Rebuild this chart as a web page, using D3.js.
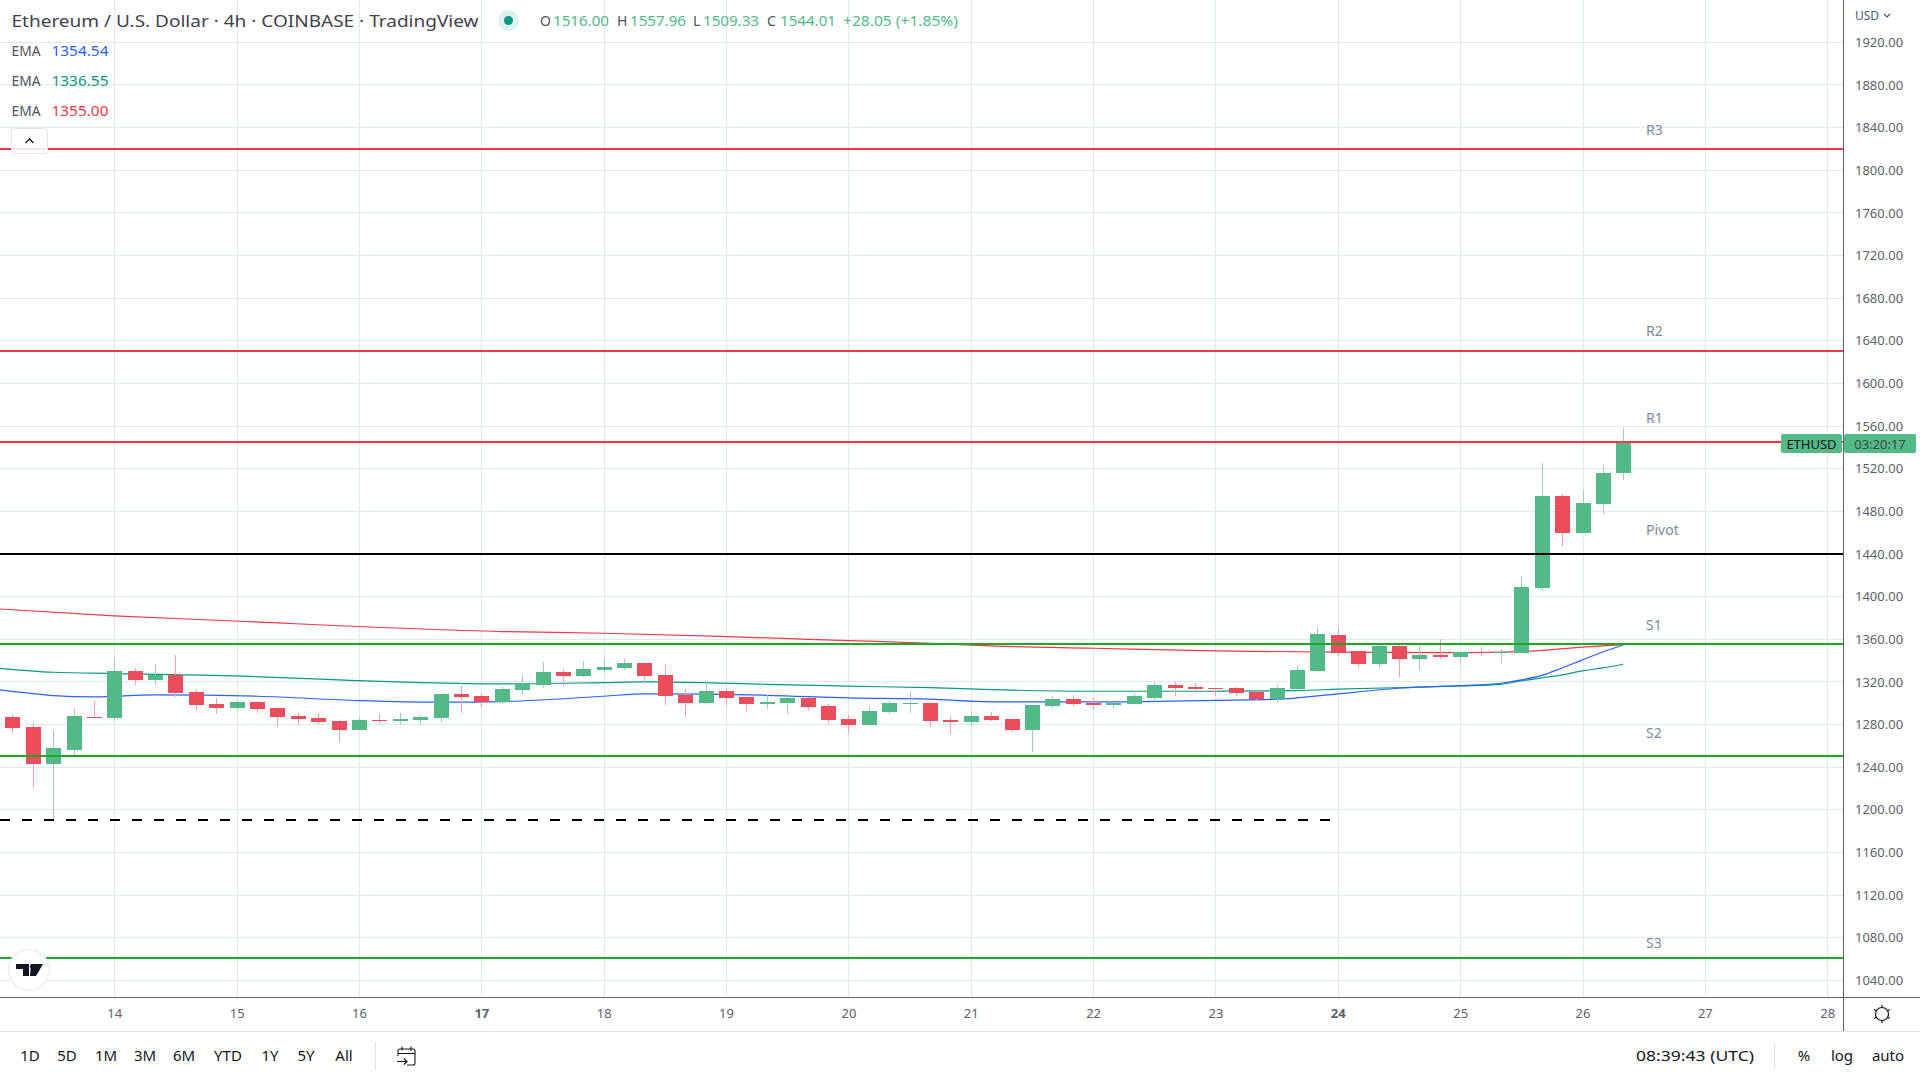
<!DOCTYPE html>
<html><head><meta charset="utf-8">
<script src="https://cdn.jsdelivr.net/npm/d3@7"></script>
<style>
html,body{margin:0;padding:0;background:#fff;overflow:hidden}
svg{display:block}
text{font-family:"Noto Sans",sans-serif}
</style></head><body>
<svg id="chart" width="1920" height="1080"></svg>
<script>
const firstBar = Date.UTC(2022, 9, 13, 4);
const barHours = 4;
const opens = [1287.1,1277.7,1243,1256.1,1287.1,1286.2,1330.3,1321.8,1326.5,1310.6,1299.3,1295.5,1301.2,1295.5,1288,1286.2,1283.4,1274.9,1284.3,1283.4,1284.3,1286.2,1308.7,1306.8,1301.2,1312.4,1317.1,1329.3,1325.6,1331.2,1333.1,1337.8,1326.5,1307.7,1300.2,1311.5,1305.9,1299.3,1300.2,1304.9,1297.4,1285.2,1279.6,1291.8,1299.3,1300.2,1284.3,1282.4,1288,1285.2,1274.9,1297.4,1304,1300.2,1298.4,1299.3,1304.9,1317.1,1315.2,1314.3,1314.3,1310.6,1304,1313.4,1330.3,1364,1349,1336.8,1353.7,1341.5,1345.3,1343.4,1347.8,1347,1347.5,1408.1,1494.4,1459.7,1486.9,1516];
const highs = [1289.9,1281.5,1274.9,1295.5,1302.1,1342.5,1333.1,1336.8,1345.3,1313.4,1304.9,1303.1,1302.1,1296.5,1291.8,1290.9,1284.3,1287.1,1289.9,1290.9,1289,1309.6,1316.2,1308.7,1315.2,1326.5,1338.7,1332.1,1339.6,1342.5,1341.5,1338.7,1335.9,1313.4,1320.9,1314.3,1306.8,1307.7,1308.7,1305.9,1299.3,1289,1296.5,1303.1,1311.5,1300.2,1288,1292.7,1291.8,1285.2,1298.4,1306.8,1307.7,1304.9,1301.2,1308.7,1319.9,1320.9,1319,1314.3,1315.2,1312.4,1317.1,1335.9,1371.5,1371.5,1349,1354.6,1354.6,1353.7,1360.3,1349,1352.8,1350.6,1419.4,1525.4,1496.3,1500.1,1523.5,1557.96];
const lows = [1272.1,1220.5,1190.5,1251.4,1286.2,1283.4,1317.1,1317.1,1305.9,1293.7,1289.9,1293.7,1290.9,1277.7,1279.6,1279.6,1263.6,1274.9,1281.5,1279.6,1279.6,1282.4,1290.9,1295.5,1299.3,1307.7,1314.3,1316.2,1324.6,1328.4,1331.2,1319,1298.4,1287.1,1299.3,1298.4,1292.7,1294.6,1289.9,1292.7,1280.5,1271.2,1279.6,1290,1290.9,1277.7,1271.2,1278.7,1283.4,1273,1254.3,1295.5,1297.4,1294.6,1295.5,1299.3,1303.1,1306.8,1312.4,1306.8,1306.8,1302.1,1300.2,1311.5,1329.3,1344.3,1333.1,1333.1,1324.6,1331.2,1341.5,1335.9,1344.3,1337.5,1347.5,1405.3,1447.5,1459.7,1477.5,1509.33];
const closes = [1276.8,1243,1258,1288,1286.2,1330.3,1321.8,1326.5,1309.6,1298.4,1295.5,1301.2,1294.6,1287.1,1285.2,1282.4,1274.9,1284.3,1283.4,1285.2,1287.1,1308.7,1305.9,1301.2,1313.4,1318.1,1329.3,1325.6,1332.1,1334,1337.8,1325.6,1306.8,1300.2,1311.5,1304.9,1299.3,1301.2,1304.9,1296.5,1284.3,1279.6,1292.7,1300.2,1300.2,1283.4,1282.4,1288,1284.3,1274.9,1298.4,1304,1299.3,1298.4,1300.2,1306.8,1317.1,1314.3,1313.4,1313.4,1309.6,1304,1314.3,1331.2,1365,1347.1,1336.8,1353.7,1341.5,1345.3,1343.4,1348.1,1346.9,1347.8,1409.1,1494.4,1459.7,1487.9,1516,1544.01];

const emaBars1 = [-1,1,2,4,7,12,17,21,24,29,31,37,41,45,48,53,59,62,63,65,68,71,73,74,75,76,77,78,79];
const emaBlue = [1313.4,1309,1307.1,1305.9,1307.7,1306.5,1302.4,1300.9,1301.5,1306.5,1308.7,1307.4,1304.9,1303.7,1301.2,1301.2,1302.7,1303.7,1304.9,1308.7,1314,1316.5,1318.7,1321.8,1326,1333,1340.6,1348,1354.54];
const emaBars2 = [-1,2,5,11,16,20,24,29,31,37,41,45,48,53,59,63,65,71,73,74,75,76,77,78,79];
const emaGreen = [1333.4,1329,1327.8,1325.6,1321.8,1319.3,1318.1,1319.3,1319.9,1317.7,1315.9,1314.6,1312.7,1311.2,1311.2,1311.8,1313.1,1316.2,1317.7,1320.9,1323.7,1326.5,1330.3,1333.1,1336.55];
const emaBars3 = [-1,5,10,24,29,35,41,45,48,53,59,65,71,74,77,79];
const emaRed = [1388.8,1381.9,1377.8,1367.2,1365.6,1362.5,1358.7,1356.2,1353.7,1351.5,1349,1347.8,1347.5,1348.4,1352.5,1355];

const levelNames = ["R3","R2","R1","Pivot","S1","S2","S3"];
const levelValues = [1820,1630.4,1544.7,1440,1355.6,1250.5,1061];
const levelLabelAt = [1837.7,1649.2,1568,1462,1373.4,1271.6,1075.1];
const levelColors = ["#f23645","#f23645","#f23645","#000000","#1aa82c","#1aa82c","#1aa82c"];
const dashedLevel = 1190.5;
const dashedEndDay = Date.UTC(2022, 9, 24, 0);

const priceTicks = d3.range(1040, 1921, 40);
const dayTicks = d3.range(14, 29);
const boldDays = [17, 24];
const rangeButtons = ["1D","5D","1M","3M","6M","YTD","1Y","5Y","All"];
const rangeCentres = [30,67,106,145,184,228,270,306,344];
const legendEma = ["1354.54","1336.55","1355.00"];
const legendEmaColors = ["#2962ff","#089981","#f23645"];

const up = "#53b987", down = "#eb4d5c", upWick = "#a5c9c9", downWick = "#f5a0ad";
const gridColor = "#dfe9f0", axisColor = "#5d606b";
const plotW = 1843, plotB = 997;

const x = d3.scaleUtc().domain([Date.UTC(2022,9,14), Date.UTC(2022,9,28)]).range([114.3, 1827.2]);
const y = d3.scaleLinear().domain([1040, 1920]).range([980.3, 42.3]);
const barTime = i => firstBar + i * barHours * 3600e3;
const bars = opens.map((o,i)=>({i,o,h:highs[i],l:lows[i],c:closes[i]}));

const svg = d3.select("#chart");
svg.append("rect").attr("width",1920).attr("height",1080).attr("fill","#fff");
svg.append("clipPath").attr("id","plot").append("rect").attr("width",plotW).attr("height",plotB);

const plot = svg.append("g").attr("clip-path","url(#plot)");
const grid = plot.append("g").attr("stroke",gridColor).attr("stroke-width",1).attr("shape-rendering","crispEdges");
grid.selectAll(".h").data(priceTicks).join("line").attr("x1",0).attr("x2",plotW)
  .attr("y1",d=>Math.floor(y(d))+.5).attr("y2",d=>Math.floor(y(d))+.5);
grid.selectAll(".v").data(dayTicks).join("line").attr("y1",0).attr("y2",plotB)
  .attr("x1",d=>Math.round(x(Date.UTC(2022,9,d)))+.5).attr("x2",d=>Math.round(x(Date.UTC(2022,9,d)))+.5);

const emaLine = (barsIdx) => d3.line().x((d,k)=>x(barTime(barsIdx[k]))).y(d=>y(d)).curve(d3.curveMonotoneX);
[[emaBars3,emaRed,"#f23645"],[emaBars2,emaGreen,"#089981"],[emaBars1,emaBlue,"#2962ff"]].forEach(([b,v,c])=>{
  plot.append("path").attr("d",emaLine(b)(v)).attr("fill","none").attr("stroke",c).attr("stroke-width",1.2);
});

const cx = d => Math.round(x(barTime(d.i)));
const candles = plot.append("g").attr("shape-rendering","crispEdges");
candles.selectAll(".w").data(bars).join("line")
  .attr("x1",d=>cx(d)+.5).attr("x2",d=>cx(d)+.5)
  .attr("y1",d=>Math.round(y(d.h))).attr("y2",d=>Math.round(y(d.l)))
  .attr("stroke",d=>d.c>=d.o?upWick:downWick).attr("stroke-width",1);
candles.selectAll(".b").data(bars).join("rect")
  .attr("x",d=>cx(d)-7).attr("width",15)
  .attr("y",d=>Math.round(y(Math.max(d.o,d.c))))
  .attr("height",d=>Math.max(1,Math.round(y(Math.min(d.o,d.c)))-Math.round(y(Math.max(d.o,d.c)))))
  .attr("fill",d=>d.c>=d.o?up:down);

plot.selectAll(".lvl").data(levelValues).join("line")
  .attr("x1",0).attr("x2",plotW).attr("y1",d=>y(d)).attr("y2",d=>y(d))
  .attr("stroke",(d,i)=>levelColors[i]).attr("stroke-width",2).attr("shape-rendering","crispEdges");
plot.append("line").attr("x1",0).attr("x2",x(dashedEndDay)).attr("y1",y(dashedLevel)).attr("y2",y(dashedLevel))
  .attr("stroke","#000").attr("stroke-width",2).attr("stroke-dasharray","10 12").attr("shape-rendering","crispEdges");

svg.selectAll(".lvlt").data(levelNames).join("text")
  .attr("x",1646).attr("y",(d,i)=>y(levelLabelAt[i])+5).attr("fill","#7b8a9a").attr("font-size",14).text(d=>d);

// Price scale
const yAxis = d3.axisRight(y).tickValues(priceTicks).tickSize(0).tickPadding(12).tickFormat(d3.format(".2f"));
const gy = svg.append("g").attr("transform",`translate(${plotW},0)`).call(yAxis);
gy.select(".domain").remove();
gy.selectAll("text").attr("font-size",13).attr("fill",axisColor).style("font-family",'"Noto Sans",sans-serif');

// Time scale
const xAxis = d3.axisBottom(x).tickValues(dayTicks.map(d=>new Date(Date.UTC(2022,9,d)))).tickSize(0).tickPadding(12)
  .tickFormat(d=>d.getUTCDate());
const gx = svg.append("g").attr("transform",`translate(0,${plotB})`).call(xAxis);
gx.select(".domain").remove();
gx.selectAll("text").attr("font-size",13).attr("fill",axisColor).style("font-family",'"Noto Sans",sans-serif')
  .attr("font-weight",d=>boldDays.includes(d.getUTCDate())?700:400);

svg.append("line").attr("x1",1843.5).attr("x2",1843.5).attr("y1",0).attr("y2",1031).attr("stroke",axisColor).attr("shape-rendering","crispEdges");
svg.append("line").attr("x1",0).attr("x2",1920).attr("y1",997.5).attr("y2",997.5).attr("stroke",axisColor).attr("shape-rendering","crispEdges");
svg.append("line").attr("x1",0).attr("x2",1920).attr("y1",1031.5).attr("y2",1031.5).attr("stroke","#e0e3eb").attr("shape-rendering","crispEdges");

svg.append("text").attr("x",1855).attr("y",20).attr("font-size",12).attr("fill","#4a5a80").text("USD");
svg.append("path").attr("d","M1884 14l3 3l3 -3").attr("fill","none").attr("stroke","#555").attr("stroke-width",1.2);

// Last-price tags
svg.append("rect").attr("x",1781).attr("y",434).attr("width",61).attr("height",19).attr("rx",2).attr("fill",up);
svg.append("rect").attr("x",1844).attr("y",434).attr("width",72).attr("height",19).attr("rx",2).attr("fill",up);
svg.append("text").attr("x",1811.5).attr("y",449).attr("text-anchor","middle").attr("font-size",13).attr("fill","#131722").text("ETHUSD");
svg.append("text").attr("x",1880).attr("y",449).attr("text-anchor","middle").attr("font-size",13).attr("fill","#3b4a45").text("03:20:17");

// Legend
svg.append("text").attr("x",11.5).attr("y",27).attr("font-size",17).attr("fill","#3f424c")
  .attr("textLength",467).attr("lengthAdjust","spacingAndGlyphs").text("Ethereum / U.S. Dollar · 4h · COINBASE · TradingView");
svg.append("circle").attr("cx",508.5).attr("cy",20.5).attr("r",10.5).attr("fill","#dff1ee");
svg.append("circle").attr("cx",508.5).attr("cy",20.5).attr("r",4.5).attr("fill","#089981");
const ohlcLabels = [["O",540,"#50535e"],["1516.00",553,up],["H",617,"#50535e"],["1557.96",630,up],["L",693,"#50535e"],["1509.33",703,up],["C",767,"#50535e"],["1544.01",780,up],["+28.05 (+1.85%)",843,up]];
ohlcLabels.forEach(([t,px,c])=>{
  const a = svg.append("text").attr("x",px).attr("y",26).attr("font-size",14).attr("fill",c).text(t);
  if(t.length===7) a.attr("textLength",56).attr("lengthAdjust","spacingAndGlyphs");
  if(t.length>7) a.attr("textLength",115).attr("lengthAdjust","spacingAndGlyphs");
});
legendEma.forEach((v,i)=>{
  const yy = 55.5 + i*30;
  svg.append("text").attr("x",11.5).attr("y",yy).attr("font-size",14).attr("fill","#50535e")
    .attr("textLength",29).attr("lengthAdjust","spacingAndGlyphs").text("EMA");
  svg.append("text").attr("x",51.5).attr("y",yy).attr("font-size",14).attr("fill",legendEmaColors[i])
    .attr("textLength",57).attr("lengthAdjust","spacingAndGlyphs").text(v);
});
svg.append("rect").attr("x",11.5).attr("y",128.5).attr("width",36).attr("height",25).attr("rx",3).attr("fill","#fff").attr("fill-opacity",.85).attr("stroke","#e0e3eb");
svg.append("path").attr("d","M25.5 143l4 -4l4 4").attr("fill","none").attr("stroke","#131722").attr("stroke-width",1.3);

// Logo
svg.append("circle").attr("cx",29).attr("cy",970).attr("r",20.5).attr("fill","#fff").attr("stroke","#eceef2").attr("stroke-width",1.5);
svg.append("path").attr("d","M16 964h13v12h-6v-7h-7z M31 964 h12 l-7 12 h-6 z").attr("fill","#131722");
svg.append("circle").attr("cx",32.5).attr("cy",966.5).attr("r",2.5).attr("fill","#131722");

// Toolbar
rangeButtons.forEach((t,i)=>svg.append("text").attr("x",rangeCentres[i]).attr("y",1061).attr("text-anchor","middle").attr("font-size",15).attr("fill","#131722").text(t));
[375.5,1774.5].forEach(px=>svg.append("line").attr("x1",px).attr("x2",px).attr("y1",1042).attr("y2",1070).attr("stroke","#e0e3eb").attr("shape-rendering","crispEdges"));
svg.append("path").attr("d","M398 1056v-5a2 2 0 0 1 2-2h13a2 2 0 0 1 2 2v12a2 2 0 0 1-2 2h-6 M398 1053.5h17 M402 1046.5v4 M411 1046.5v4 M397 1061.5h10 M404 1058.5l3 3l-3 3")
  .attr("fill","none").attr("stroke","#131722").attr("stroke-width",1.1);
svg.append("text").attr("x",1636).attr("y",1061).attr("font-size",15).attr("fill","#131722")
  .attr("textLength",118).attr("lengthAdjust","spacingAndGlyphs").text("08:39:43 (UTC)");
[["%",1804],["log",1842],["auto",1888]].forEach(([t,px])=>svg.append("text").attr("x",px).attr("y",1061).attr("text-anchor","middle").attr("font-size",15).attr("fill","#131722").text(t));

// Settings icon
const gear = svg.append("g").attr("transform","translate(1882,1014)").attr("fill","none").attr("stroke","#131722").attr("stroke-width",1.2);
gear.append("circle").attr("r",6.5);
d3.range(6).forEach(k=>{const a=k*Math.PI/3+Math.PI/6;gear.append("line").attr("x1",6.5*Math.cos(a)).attr("y1",6.5*Math.sin(a)).attr("x2",9*Math.cos(a)).attr("y2",9*Math.sin(a));});
</script>
</body></html>
